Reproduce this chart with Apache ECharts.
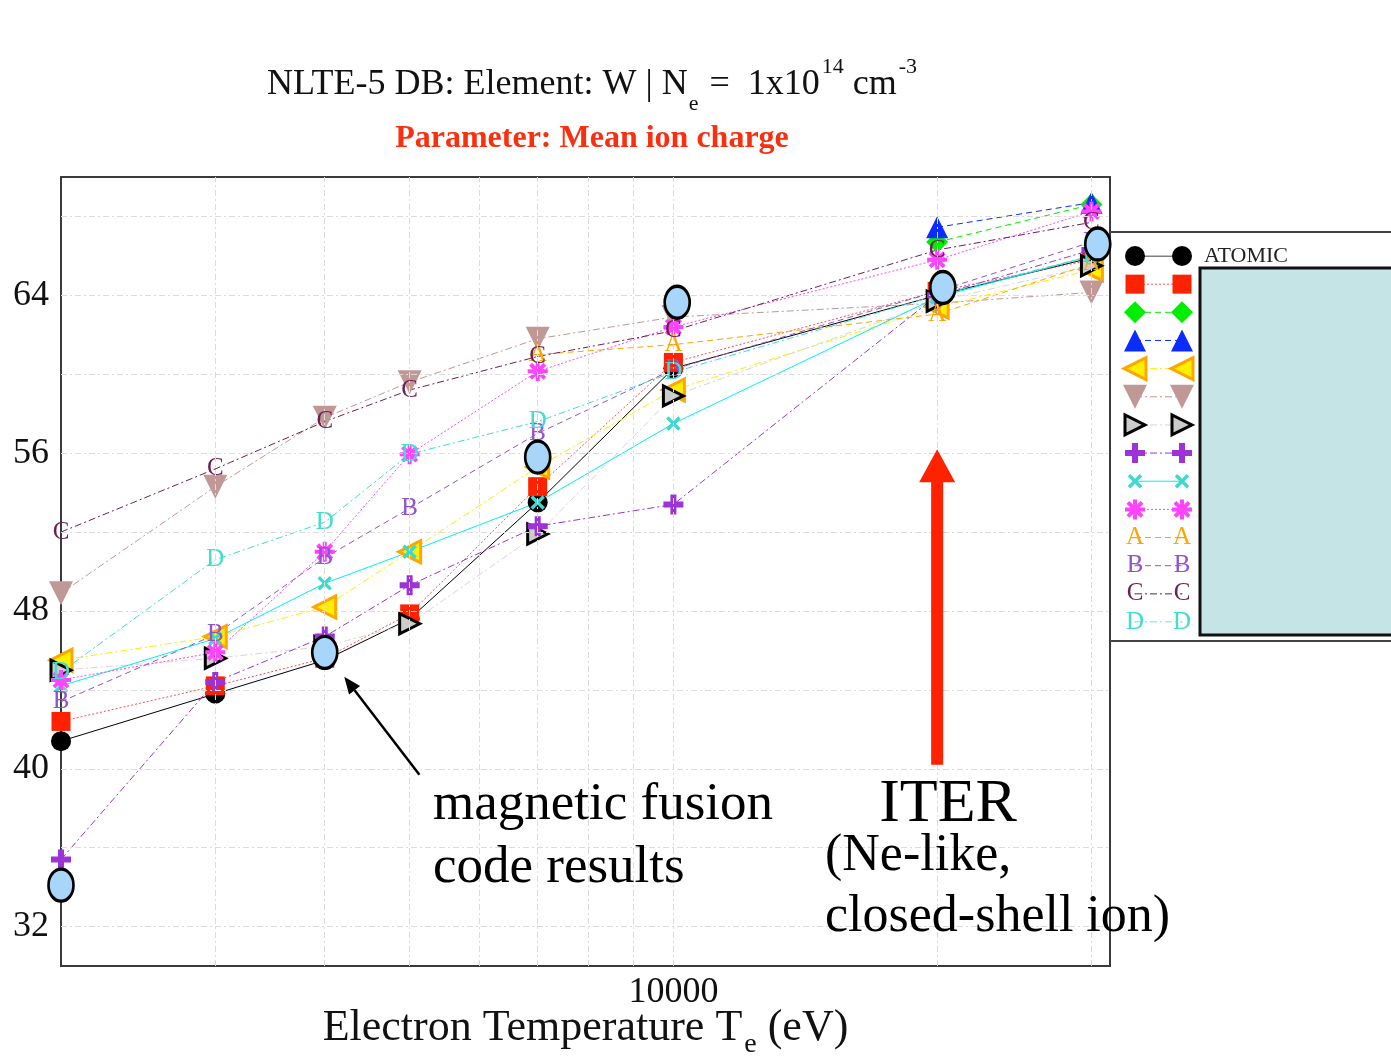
<!DOCTYPE html>
<html>
<head>
<meta charset="utf-8">
<title>NLTE-5 DB: W mean ion charge</title>
<script src="https://cdn.jsdelivr.net/npm/echarts@6/dist/echarts.min.js"></script>
<style>
html, body { margin: 0; padding: 0; background: #fff; }
#main { width: 1391px; height: 1062px; }
</style>
</head>
<body>
<div id="main"></div>
<script>
// electron temperature (eV)
var temps = [2000, 3000, 4000, 5000, 7000, 10000, 20000, 30000];
var xGridTicks = [3000, 4000, 5000, 6000, 7000, 8000, 9000, 10000, 20000, 30000];
var yGridTicks = [32, 36, 40, 44, 48, 52, 56, 60, 64, 68];
var xLabelTicks = [10000];
var yLabelTicks = [32, 40, 48, 56, 64];

// mean ion charge per code (null = no point)
var atomic      = [41.4, 43.8, 45.5, 47.6, 53.5, 60.3, 64.0, 65.9];
var redSquare   = [42.4, 44.2, 45.6, 47.85, 54.3, 60.6, 64.2, 65.8];
var greenDiam   = [null, null, null, null, null, null, 66.7, 68.6];
var blueTri     = [null, null, null, null, null, null, 67.45, 68.7];
var orangeTri   = [45.5, 46.7, 48.2, 51.0, 55.3, 59.2, 63.4, 65.3];
var rosyTri     = [48.9, 54.3, 57.8, 59.6, 61.8, 62.9, 63.6, 64.15];
var grayTri     = [45.0, 45.6, 46.2, 47.35, 51.9, 58.9, 63.7, 65.5];
var purplePlus  = [35.4, 44.4, 46.7, 49.3, 52.3, 53.4, 64.0, 66.3];
var cyanCross   = [44.2, 46.6, 49.4, 51.0, 53.5, 57.5, 63.9, 66.0];
var magentaStar = [44.5, 45.9, 51.0, 55.95, 60.15, 62.4, 65.8, 68.25];
var codeA       = [null, null, null, null, 61.0, 61.5, 63.05, 65.6];
var codeB       = [43.4, 46.8, 50.7, 53.2, 57.0, 60.25, 64.2, 66.7];
var codeC       = [52.0, 55.2, 57.6, 59.2, 60.9, 62.2, 66.3, 67.7];
var codeD       = [44.9, 50.6, 52.5, 55.95, 57.6, 60.1, 64.0, 66.0];

// magnetic fusion code results
var fusionTemps  = [2000, 4000, 7000, 10100, 20300, 30500];
var fusionCharge = [34.1, 45.9, 55.8, 63.65, 64.4, 66.6];

var FONT = 'Liberation Serif, DejaVu Serif, serif';
var DOT = [2, 2], DASH = [6, 4], DASHDOT = [7, 3, 2, 3];

//符号
var plusPath = 'path://M-1.5,-5h3v3.5h3.5v3h-3.5v3.5h-3v-3.5h-3.5v-3h3.5z';
var crossPath = 'path://M-1,-5h2v4h4v2h-4v4h-2v-4h-4v-2h4z';
var starPath = 'path://M-1,-5h2v10h-2z M-5,-1h10v2h-10z ' +
	'M-4.24,-2.83L-2.83,-4.24L4.24,2.83L2.83,4.24Z M4.24,-2.83L-2.83,4.24L-4.24,2.83L2.83,-4.24Z';

var codes = [
	{ name: 'ATOMIC', values: atomic, color: '#000000', symbol: 'circle', size: 20, dash: 'solid' },
	{ name: 'code 2', values: redSquare, color: '#ff2200', symbol: 'rect', size: 19, dash: DOT, lineColor: '#ff5050' },
	{ name: 'code 3', values: greenDiam, color: '#00ee00', symbol: 'diamond', size: 22, dash: DASH },
	{ name: 'code 4', values: blueTri, color: '#0a2cff', symbol: 'triangle', size: 22, dash: DASH },
	{ name: 'code 5', values: orangeTri, color: '#ffee00', border: '#ffa500', symbol: 'triangle', rotate: 90, size: 22, dash: DASHDOT },
	{ name: 'code 6', values: rosyTri, color: '#c09896', symbol: 'triangle', rotate: 180, size: 24, dash: DASHDOT },
	{ name: 'code 7', values: grayTri, color: '#cccccc', border: '#000000', symbol: 'triangle', rotate: -90, size: 20, dash: DASHDOT, lineColor: '#d6d6d6' },
	{ name: 'code 8', values: purplePlus, color: '#9b33d6', symbol: plusPath, size: 20, dash: DASHDOT },
	{ name: 'code 9', values: cyanCross, color: '#3fd8cc', symbol: crossPath, rotate: 45, size: 17, dash: 'solid', lineColor: '#00f0f0' },
	{ name: 'code 10', values: magentaStar, color: '#ff44ff', symbol: starPath, size: 20, dash: DOT },
	{ name: 'code A', values: codeA, color: '#ffa500', letter: 'A', dash: DASH },
	{ name: 'code B', values: codeB, color: '#9352d0', letter: 'B', dash: DASH },
	{ name: 'code C', values: codeC, color: '#6e1f52', letter: 'C', dash: DASHDOT },
	{ name: 'code D', values: codeD, color: '#40ddd0', letter: 'D', dash: DASHDOT }
];

function styleOf(c) {
	var s = {
		symbol: c.letter ? 'circle' : c.symbol,
		symbolSize: c.letter ? 1 : c.size,
		symbolRotate: c.rotate || 0,
		lineStyle: { color: c.lineColor || c.color, width: 1, type: c.dash },
		itemStyle: { color: c.color }
	};
	if (c.border) {
		s.itemStyle.borderColor = c.border;
		s.itemStyle.borderWidth = 3;
	}
	if (c.letter) {
		s.label = {
			show: true, position: 'inside', formatter: c.letter,
			color: c.color, fontFamily: FONT, fontSize: 25
		};
	}
	return s;
}

var series = [];

// 网格线
series.push({
	type: 'line', data: [], silent: true, z: 1,
	markLine: {
		silent: true, symbol: 'none', label: { show: false },
		lineStyle: { color: '#dcdcdc', width: 1, type: [6, 3, 2, 3] },
		data: xGridTicks.map(function(v) { return { xAxis: v }; })
			.concat(yGridTicks.map(function(v) { return { yAxis: v }; }))
	}
});

codes.forEach(function(c, i) {
	var pts = [];
	temps.forEach(function(t, k) {
		if (c.values[k] != null) pts.push([t, c.values[k]]);
	});
	var s = styleOf(c);
	s.type = 'line';
	s.name = c.name;
	s.data = pts;
	s.z = 3;
	series.push(s);

	// legend row: symbol --- symbol
	var l = styleOf(c);
	l.type = 'line';
	l.name = c.name + ' legend';
	l.xAxisIndex = 1;
	l.yAxisIndex = 1;
	l.silent = true;
	var last = { value: [1, c.name] };
	if (i === 0) {
		last.label = { show: true, position: 'right', distance: 12, formatter: 'ATOMIC', color: '#222', fontFamily: FONT, fontSize: 22 };
	}
	l.data = [[0, c.name], last];
	series.push(l);
});

series.push({
	type: 'scatter', name: 'magnetic fusion code results', z: 6,
	data: fusionTemps.map(function(t, k) { return [t, fusionCharge[k]]; }),
	symbol: 'circle', symbolSize: [25, 32],
	itemStyle: { color: '#a8d5fa', borderColor: '#000', borderWidth: 3, opacity: 1 }
});

var option = {
	animation: false,
	backgroundColor: '#fff',
	title: [{
		text: '{a|NLTE-5 DB: Element: W | N}{sub|e}{a| =  1x10}{sup|14}{a| cm}{sup|-3}',
		left: 587, top: 48, textAlign: 'center',
		textStyle: {
			fontWeight: 'normal',
			rich: {
				a: { fontFamily: FONT, fontSize: 36, fontWeight: 'normal', color: '#111', lineHeight: 40, padding: [14, 0, 0, 0], verticalAlign: 'top' },
				sup: { fontFamily: FONT, fontSize: 22, fontWeight: 'normal', color: '#111', lineHeight: 22, padding: [3, 0, 0, 2], verticalAlign: 'top' },
				sub: { fontFamily: FONT, fontSize: 22, fontWeight: 'normal', color: '#111', lineHeight: 22, padding: [40, 2, 0, 1], verticalAlign: 'top' }
			}
		}
	}, {
		text: 'Parameter: Mean ion charge',
		left: 587, top: 118, textAlign: 'center',
		textStyle: { fontFamily: FONT, fontSize: 32, fontWeight: 'bold', color: '#f92f10' }
	}],
	grid: [
		{ left: 61, top: 177, width: 1049, height: 789, show: true, borderColor: '#3a3a3a', borderWidth: 2, outerBoundsMode: 'none', containLabel: false },
		{ left: 1135, top: 256, width: 47, height: 366, show: false, outerBoundsMode: 'none' }
	],
	xAxis: [{
		type: 'log', logBase: 10, min: 2000, max: 31500, gridIndex: 0,
		axisLine: { show: false }, axisTick: { show: false }, splitLine: { show: false },
		axisLabel: {
			margin: 9, fontFamily: FONT, fontSize: 36, color: '#111',
			showMinLabel: false, showMaxLabel: false,
			formatter: function(v) {
				for (var i = 0; i < xLabelTicks.length; i++) {
					if (Math.abs(v - xLabelTicks[i]) < 1) return String(xLabelTicks[i]);
				}
				return '';
			}
		},
		name: '{a|Electron Temperature T}{sub|e}{a| (eV)}',
		nameLocation: 'middle', nameGap: 40, nameMoveOverlap: false,
		nameTextStyle: {
			rich: {
				a: { fontFamily: FONT, fontSize: 44, color: '#111', lineHeight: 46, verticalAlign: 'top' },
				sub: { fontFamily: FONT, fontSize: 28, color: '#111', lineHeight: 28, padding: [25, 0, 0, 2], verticalAlign: 'top' }
			}
		}
	}, {
		type: 'value', min: 0, max: 1, gridIndex: 1, show: false
	}],
	yAxis: [{
		type: 'value', min: 30, max: 70, interval: 2, gridIndex: 0,
		axisLine: { show: false }, axisTick: { show: false }, splitLine: { show: false },
		axisLabel: {
			margin: 12, fontFamily: FONT, fontSize: 36, color: '#111',
			formatter: function(v) { return yLabelTicks.indexOf(v) >= 0 ? String(v) : ''; }
		}
	}, {
		type: 'category', gridIndex: 1, inverse: true, boundaryGap: false, show: false,
		data: codes.map(function(c) { return c.name; })
	}],
	series: series
};

var chart = echarts.init(document.getElementById('main'));
chart.setOption(option);

// 注释: 箭头和文字
function px(t, q) { return chart.convertToPixel({ gridIndex: 0 }, [t, q]); }
var iterTop = px(20000, 56.2), iterBot = px(20000, 40.2);
var ix = iterTop[0], it = iterTop[1], ib = iterBot[1];
var tip = px(4210, 44.66), tail = px(5130, 39.7);
var dx = tip[0] - tail[0], dy = tip[1] - tail[1];
var len = Math.sqrt(dx * dx + dy * dy), ux = dx / len, uy = dy / len;
var hb = [tip[0] - ux * 17, tip[1] - uy * 17];

chart.setOption({
	graphic: [
		{ type: 'polygon', z: 10, shape: { points: [
			[ix - 6, ib], [ix - 6, it + 33], [ix - 18, it + 33], [ix, it],
			[ix + 18, it + 33], [ix + 6, it + 33], [ix + 6, ib]] },
			style: { fill: '#ff2200' } },
		{ type: 'line', z: 10, shape: { x1: tail[0], y1: tail[1], x2: hb[0], y2: hb[1] },
			style: { stroke: '#000', lineWidth: 2.5 } },
		{ type: 'polygon', z: 10, shape: { points: [
			[tip[0], tip[1]],
			[hb[0] - uy * 7, hb[1] + ux * 7],
			[hb[0] + uy * 7, hb[1] - ux * 7]] },
			style: { fill: '#000' } },
		{ type: 'text', z: 10, style: { text: 'magnetic fusion', x: 433, y: 805, verticalAlign: 'middle', font: '53px ' + FONT, fill: '#000' } },
		{ type: 'text', z: 10, style: { text: 'code results', x: 433, y: 868, verticalAlign: 'middle', font: '53px ' + FONT, fill: '#000' } },
		{ type: 'text', z: 10, style: { text: 'ITER', x: 948, y: 805, align: 'center', verticalAlign: 'middle', font: '62px ' + FONT, fill: '#000' } },
		{ type: 'text', z: 10, style: { text: '(Ne-like,', x: 825, y: 856, verticalAlign: 'middle', font: '52px ' + FONT, fill: '#000' } },
		{ type: 'text', z: 10, style: { text: 'closed-shell ion)', x: 825, y: 917, verticalAlign: 'middle', font: '52px ' + FONT, fill: '#000' } },
		// legend frame
		{ type: 'line', shape: { x1: 1110, y1: 232, x2: 1391, y2: 232 }, style: { stroke: '#444', lineWidth: 2 } },
		{ type: 'line', shape: { x1: 1110, y1: 641, x2: 1391, y2: 641 }, style: { stroke: '#444', lineWidth: 2 } },
		{ type: 'rect', z: 10, shape: { x: 1200, y: 268, width: 200, height: 367 },
			style: { fill: '#c4e4e6', stroke: '#111', lineWidth: 3 } }
	]
});
</script>
</body>
</html>
